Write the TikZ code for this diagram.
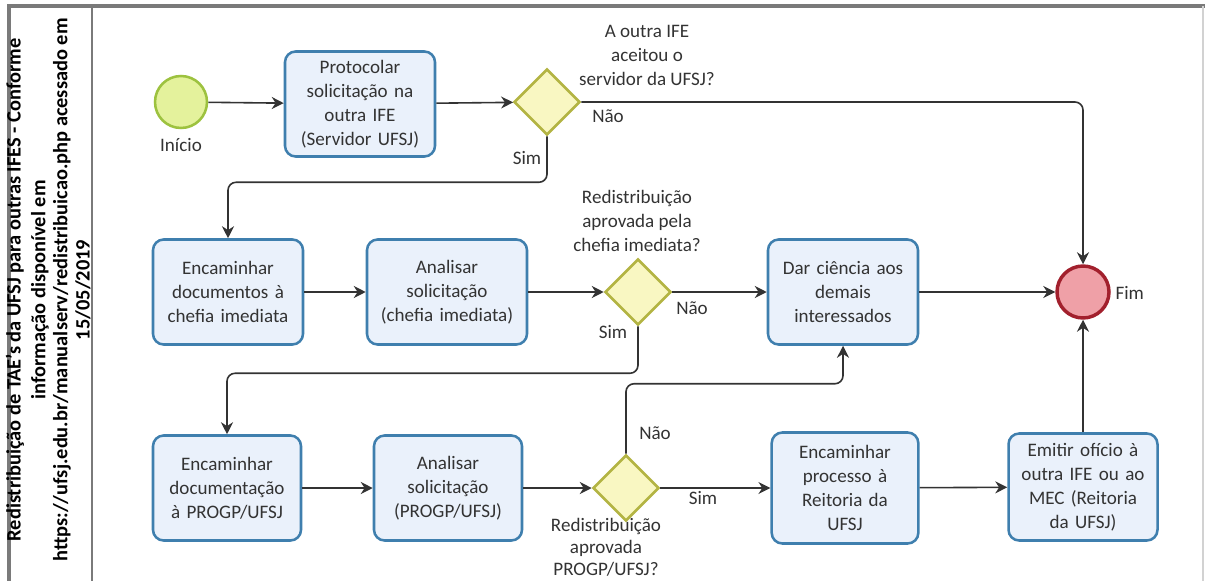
\documentclass[tikz,border=0pt]{standalone}
\usepackage{fontspec}
\setmainfont{Carlito}
\usetikzlibrary{shapes.geometric,arrows.meta}
\definecolor{taskfill}{HTML}{EAF1FB}
\definecolor{taskdraw}{HTML}{3F7FAE}
\definecolor{gwfill}{HTML}{F9F7C2}
\definecolor{gwdraw}{HTML}{B3B443}
\definecolor{stfill}{HTML}{E4F29C}
\definecolor{stdraw}{HTML}{9DC23F}
\definecolor{endfill}{HTML}{EFA0A7}
\definecolor{enddraw}{HTML}{A2202D}
\definecolor{txt}{HTML}{333333}
\definecolor{flow}{HTML}{333333}
\definecolor{framecol}{HTML}{7A7A7A}
\begin{document}
\begin{tikzpicture}[x=0.75pt,y=-0.75pt,
  font=\fontsize{14.3}{18}\selectfont,
  task/.style={rectangle, draw=taskdraw, fill=taskfill, line width=1.9pt, rounded corners=8pt,
    minimum width=112.5pt, minimum height=78.75pt, text width=110pt, align=center, text=txt, inner sep=0pt},
  gw/.style={diamond, draw=gwdraw, fill=gwfill, line width=1.9pt, minimum width=49.5pt, minimum height=49.5pt, inner sep=0pt},
  startev/.style={circle, draw=stdraw, fill=stfill, line width=1.9pt, minimum size=39pt, inner sep=0pt},
  endev/.style={circle, draw=enddraw, fill=endfill, line width=2.6pt, minimum size=39pt, inner sep=0pt},
  flowline/.style={draw=flow, line width=1.2pt, -{Stealth[length=9pt,width=9pt]}},
  lbl/.style={text=txt, align=center, inner sep=1pt},
  hdr/.style={font=\bfseries\fontsize{15.3}{18}\selectfont, text=black, rotate=90, inner sep=0pt}
]
\path[use as bounding box] (0,0) rectangle (1205,581);
% frame
\draw[framecol, line width=2.4pt] (9,600) -- (9,6) -- (1215,6);
\draw[framecol, line width=1.5pt] (92,6) -- (92,600);
\draw[gray!35, line width=0.8pt] (1203,6) -- (1203,600);
% header text
\node[hdr] (h1) at (15,290) {Redistribuição de TAE's da UFSJ para outras IFES - Conforme};
\node[hdr] (h2) at (40,290) {informação disponível em};
\node[hdr] (h3) at (62,290) {https://ufsj.edu.br/manualserv/redistribuicao.php acessado em};
\node[hdr] (h4) at (83,290) {15/05/2019};
% nodes
\node[startev] (start) at (181,102) {};
\node[lbl] (startl) at (181,145) {Início};
\node[task] (p1) at (360,104) {Protocolar\\solicitação na\\outra IFE\\(Servidor UFSJ)};
\node[gw] (g1) at (547,102) {};
\node[lbl] (g1l) at (647,55) {A outra IFE\\aceitou o\\servidor da UFSJ?};
\node[endev] (fim) at (1083,292) {};
\node[lbl, anchor=west] (fiml) at (1114,293) {Fim};
\node[task] (t2) at (228,292) {Encaminhar\\documentos à\\chefia imediata};
\node[task, minimum width=120pt, text width=118pt] (t3) at (447,292) {Analisar\\solicitação\\(chefia imediata)};
\node[gw] (g2) at (638,292) {};
\node[lbl] (g2l) at (637,221) {Redistribuição\\aprovada pela\\chefia imediata?};
\node[task] (t4) at (843,292) {Dar ciência aos\\demais\\interessados};
\node[task, minimum width=111pt] (t5) at (227,488) {Encaminhar\\documentação\\à PROGP/UFSJ};
\node[task, minimum width=111pt] (t6) at (448,488) {Analisar\\solicitação\\(PROGP/UFSJ)};
\node[gw] (g3) at (626,488) {};
\node[lbl, font=\fontsize{14.3}{16.6}\selectfont, inner sep=0pt] (g3l) at (606,547) {Redistribuição\\aprovada\\PROGP/UFSJ?};
\node[task, minimum width=109.5pt, minimum height=83.25pt] (t7) at (845,488) {Encaminhar\\processo à\\Reitoria da\\UFSJ};
\node[task, minimum width=111.75pt, minimum height=80.25pt] (t8) at (1083,487) {Emitir ofício à\\outra IFE ou ao\\MEC (Reitoria\\da UFSJ)};
% edge labels
\node[lbl] (n1) at (608,116) {Não};
\node[lbl] (s1) at (527,158) {Sim};
\node[lbl] (n2) at (692,308) {Não};
\node[lbl] (s2) at (613,332) {Sim};
\node[lbl] (n3) at (655,433) {Não};
\node[lbl] (s3) at (703,498) {Sim};
% flows
\draw[flowline] (start) -- (p1);
\draw[flowline] (p1) -- (g1);
\draw[flowline, rounded corners=6pt] (g1.east) -| (fim.north);
\draw[flowline, rounded corners=6pt] (g1.south) -- ++(0,46) -| (t2.north);
\draw[flowline] (t2) -- (t3);
\draw[flowline] (t3) -- (g2);
\draw[flowline] (g2) -- (t4);
\draw[flowline] (t4) -- (fim);
\draw[flowline, rounded corners=6pt] (g2.south) -- ++(0,47) -| (t5.north);
\draw[flowline] (t5) -- (t6);
\draw[flowline] (t6) -- (g3);
\draw[flowline, rounded corners=6pt] (g3.north) -- ++(0,-70) -| (t4.south);
\draw[flowline] (g3) -- (t7);
\draw[flowline] (t7) -- (t8);
\draw[flowline] (t8.north) -- (fim.south);
\end{tikzpicture}
\end{document}
